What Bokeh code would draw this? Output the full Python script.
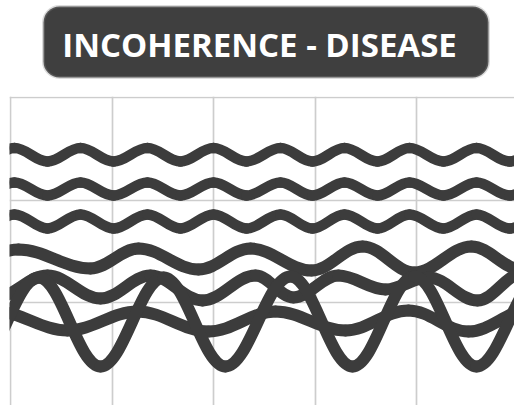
from bokeh.plotting import figure
from bokeh.models import Range1d, FixedTicker, BoxAnnotation, ColumnDataSource, Label
from bokeh.layouts import column
from bokeh.embed import file_html
from bokeh.resources import INLINE

TITLE = "INCOHERENCE - DISEASE"

# grid positions (cell units)
x_grid = [0, 1, 2, 3, 4]
y_grid = [1, 2, 3]

# upper, regular waves: shared extremum positions (trough, peak, trough, ...)
upper_x = [-0.285, 0.039, 0.364, 0.689, 1.014, 1.348, 1.673, 1.998, 2.323,
           2.657, 2.972, 3.287, 3.612, 3.927, 4.262, 4.587, 4.911, 5.236]
wave1_y = [2.376, 2.507, 2.376, 2.507, 2.376, 2.507, 2.376, 2.507, 2.376,
           2.507, 2.376, 2.507, 2.376, 2.507, 2.376, 2.507, 2.376, 2.507]
wave2_y = [2.044, 2.171, 2.044, 2.171, 2.044, 2.171, 2.044, 2.171, 2.044,
           2.171, 2.044, 2.171, 2.044, 2.171, 2.044, 2.171, 2.044, 2.171]
wave3_y = [1.722, 1.859, 1.722, 1.859, 1.722, 1.859, 1.722, 1.859, 1.722,
           1.859, 1.722, 1.859, 1.722, 1.859, 1.722, 1.859, 1.722, 1.859]

# lower, incoherent waves: extremum positions
wave4_x = [-0.541, 0.079, 0.787, 1.260, 1.850, 2.362, 2.963, 3.465, 3.976, 4.537, 5.030]
wave4_y = [1.332, 1.517, 1.332, 1.527, 1.322, 1.527, 1.312, 1.546, 1.293, 1.546, 1.322]

wave5_x = [-0.148, 0.364, 0.886, 1.378, 1.890, 2.411, 2.785, 3.228, 3.691, 4.114, 4.596, 5.039]
wave5_y = [1.049, 1.263, 1.039, 1.263, 1.020, 1.263, 1.049, 1.263, 1.127, 1.244, 1.020, 1.283]

wave6_x = [-0.148, 0.561, 1.250, 1.949, 2.608, 3.297, 3.917, 4.508, 5.118]
wave6_y = [0.912, 0.727, 0.912, 0.717, 0.912, 0.727, 0.922, 0.717, 0.932]

wave7_x = [-0.344, 0.276, 0.886, 1.506, 2.116, 2.756, 3.366, 3.976, 4.587, 5.217]
wave7_y = [0.385, 1.244, 0.376, 1.244, 0.376, 1.254, 0.376, 1.254, 0.376, 1.244]

INK = "#3c3c3c"
K = 0.364  # control-point offset giving a sine-like half wave


def segments(xs, ys):
    d = dict(x0=[], y0=[], x1=[], y1=[], cx0=[], cy0=[], cx1=[], cy1=[])
    for i in range(len(xs) - 1):
        x0, y0, x1, y1 = xs[i], ys[i], xs[i + 1], ys[i + 1]
        dx = x1 - x0
        d["x0"].append(x0); d["y0"].append(y0)
        d["x1"].append(x1); d["y1"].append(y1)
        d["cx0"].append(x0 + K * dx); d["cy0"].append(y0)
        d["cx1"].append(x1 - K * dx); d["cy1"].append(y1)
    return ColumnDataSource(d)


W = 514
HEAD_H = 96
MAIN_H = 309
LEFT = 9

# ---- header with badge ----
head = figure(width=W, height=HEAD_H, output_backend="svg", toolbar_location=None,
              x_range=Range1d(LEFT, W), y_range=Range1d(0, HEAD_H),
              min_border_left=LEFT, min_border_right=0, min_border_top=0, min_border_bottom=0)
head.axis.visible = False
head.grid.visible = False
head.outline_line_color = None
head.background_fill_color = "white"
head.border_fill_color = "white"
badge = BoxAnnotation(left=43, right=488, top=90, bottom=19,
                      fill_color="#3f3f3f", fill_alpha=1.0,
                      line_color="#8a8a8a", line_width=3, border_radius=16,
                      level="underlay")
head.add_layout(badge)
head.add_layout(Label(x=259, y=52, text=TITLE, text_color="white",
                      text_font="Open Sans", text_font_style="bold",
                      text_font_size="33px", text_align="center",
                      text_baseline="middle"))

# ---- wave chart ----
p = figure(width=W, height=MAIN_H, output_backend="svg", toolbar_location=None,
           x_range=Range1d(-0.00984, 4.9606), y_range=Range1d(-0.0049, 3.0098),
           min_border_left=LEFT, min_border_right=0, min_border_top=0, min_border_bottom=0)
p.xaxis.visible = False
p.yaxis.visible = False
p.outline_line_color = None
p.background_fill_color = "white"
p.border_fill_color = "white"
p.xgrid.ticker = FixedTicker(ticks=x_grid)
p.ygrid.ticker = FixedTicker(ticks=y_grid)
for g in (p.xgrid, p.ygrid):
    g.grid_line_color = "#cdcdcd"
    g.grid_line_width = 1.7

for ys in (wave1_y, wave2_y, wave3_y):
    p.bezier(x0="x0", y0="y0", x1="x1", y1="y1", cx0="cx0", cy0="cy0",
             cx1="cx1", cy1="cy1", source=segments(upper_x, ys),
             line_color=INK, line_width=10.5, line_cap="round")

for xs, ys in ((wave4_x, wave4_y), (wave5_x, wave5_y),
               (wave6_x, wave6_y), (wave7_x, wave7_y)):
    p.bezier(x0="x0", y0="y0", x1="x1", y1="y1", cx0="cx0", cy0="cy0",
             cx1="cx1", cy1="cy1", source=segments(xs, ys),
             line_color=INK, line_width=12, line_cap="round")

layout = column(head, p, spacing=0)
open("out.html", "w").write(file_html(layout, INLINE))
